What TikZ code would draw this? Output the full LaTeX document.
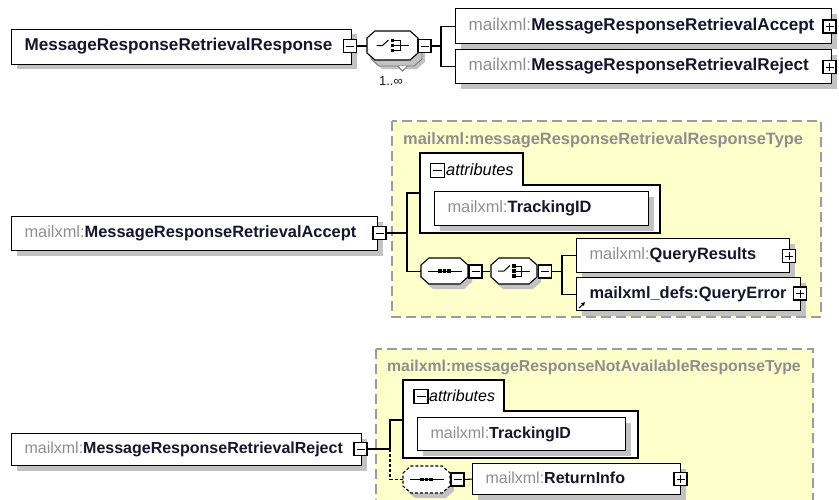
\documentclass[tikz,border=0pt]{standalone}
\usepackage{fontspec}
\setmainfont{Liberation Sans}
\usetikzlibrary{shadows,arrows.meta}

\definecolor{pfx}{HTML}{8E8E8E}
\definecolor{nm}{HTML}{15152E}
\definecolor{cty}{HTML}{FFFFCC}
\definecolor{ctyline}{HTML}{9C9C9C}
\definecolor{shd}{HTML}{C2C2C2}

% gray namespace prefix followed by the bold local name
\newcommand{\pfxname}[2]{\textcolor{pfx}{#1}\textbf{#2}}

% octagon outline of a compositor, half width #1, half height #2
\newcommand{\octpath}[2]{(-#1,-#2+7) -- (-#1+8,-#2) -- (#1-8,-#2) -- (#1,-#2+7)
  -- (#1,#2-7) -- (#1-8,#2) -- (-#1+8,#2) -- (-#1,#2-7) -- cycle}

% compositor body with shadow around node #1
\newcommand{\drawoct}[4]{%
  \begin{scope}[shift={(#1.center)}]
    \fill[shd, shift={(4,5)}] \octpath{#2}{#3};
    \draw[octline,#4] \octpath{#2}{#3};
  \end{scope}}

% "sequence" glyph drawn around a node centre
\newcommand{\seqmark}[1]{%
  \begin{scope}[shift={(#1)}]
    \draw[line width=1pt] (-17,0) -- (17,0);
    \foreach \d in {-4.5,0,4.5} \fill (\d-1.7,-1.7) rectangle (\d+1.7,1.7);
  \end{scope}}

% "choice" glyph drawn around a node centre
\newcommand{\choicemark}[1]{%
  \begin{scope}[shift={(#1)}]
    \draw[line width=1pt] (-16,0) -- (-10,0) -- (-4,-5.5);
    \foreach \d in {-5,0,5} \fill (-1.7,\d-1.6) rectangle (1.7,\d+1.6);
    \draw[line width=1pt] (1.7,-5) -- (7.5,-5) -- (7.5,5) -- (1.7,5);
    \draw[line width=1pt] (1.7,0) -- (16,0);
  \end{scope}}

\tikzset{
  elem/.style={draw=black, line width=1.1pt, fill=white, anchor=north west,
    inner xsep=13pt, inner ysep=0pt, align=left, text height=12pt, text depth=3.5pt,
    text=nm, drop shadow={shadow xshift=5pt, shadow yshift=-5pt, fill=shd, opacity=1}},
  togglebox/.style={draw=black, line width=1.3pt, fill=white, minimum size=13pt, inner sep=0pt},
  minus/.style={togglebox, path picture={%
      \draw[line width=1pt] ([xshift=2.5pt]path picture bounding box.west) --
                            ([xshift=-2.5pt]path picture bounding box.east);}},
  plus/.style={togglebox, path picture={%
      \draw[line width=1pt] ([xshift=2.5pt]path picture bounding box.west) --
                            ([xshift=-2.5pt]path picture bounding box.east);
      \draw[line width=1pt] ([yshift=-2.5pt]path picture bounding box.north) --
                            ([yshift=2.5pt]path picture bounding box.south);}},
  compnode/.style={rectangle, inner sep=0pt, minimum width=47pt, minimum height=26pt},
  octline/.style={draw=black, line width=1.1pt, fill=white},
  conn/.style={draw=black, line width=1.1pt},
  ctype/.style={draw=ctyline, fill=cty, line width=1.3pt, dash pattern=on 10pt off 5pt},
  ctitle/.style={anchor=west, inner sep=0pt, text=pfx},
  attrframe/.style={draw=black, line width=1.1pt, fill=white},
  attrlabel/.style={anchor=west, inner sep=0pt, text=black},
  fnttop/.style={font=\fontsize{17.1}{20}\selectfont},
  fntmid/.style={font=\fontsize{16.4}{19}\selectfont},
  fntbot/.style={font=\fontsize{16}{19}\selectfont},
}

\begin{document}
\begin{tikzpicture}[x=1pt,y=-1pt]
\clip (0,0) rectangle (839,499);
\fill[white] (0,0) rectangle (839,499);

% ---- complex type backgrounds
\draw[ctype] (392,121) rectangle (821,317);
\node[ctitle, font=\fontsize{16.4}{19}\selectfont\bfseries] (t1) at (403,140) {mailxml:messageResponseRetrievalResponseType};
\draw[ctype] (376,349) rectangle (813,515);
\node[ctitle, font=\fontsize{15.8}{19}\selectfont\bfseries] (t2) at (387,367) {mailxml:messageResponseNotAvailableResponseType};

% ---- root element with its repeated choice
\begin{scope}[every node/.append style={fnttop}]
\node[elem, text width=314pt, minimum height=35pt] (root) at (11,28.5) {\textbf{MessageResponseRetrievalResponse}};
\node[minus] (rootm) at (350,46) {};

\node[compnode, minimum width=51pt, minimum height=29pt] (ch1) at (392.5,45.5) {};
\begin{scope}[shift={(ch1.center)}]
  \fill[shd, shift={(7,9)}] \octpath{25.5}{14.5};
  \draw[draw=black!55, line width=0.8pt, fill=shd, shift={(4,6)}] \octpath{25.5}{14.5};
  \draw[black!55, line width=0.8pt, fill=white] (5,20.5) -- (10,25.5) -- (15,20.5);
  \draw[octline] \octpath{25.5}{14.5};
\end{scope}
\choicemark{ch1.center}
\node[minus] (ch1m) at (424.5,46) {};
\node[text=nm, font=\fontsize{13}{15}\selectfont, inner sep=0pt] (occ) at (391,81) {1..∞};

\coordinate (j1) at (441,46);
\node[elem, text width=350pt, minimum height=35pt] (acc1) at (455,8) {\pfxname{mailxml:}{MessageResponseRetrievalAccept}};
\node[plus] (acc1p) at (829.5,26.5) {};
\node[elem, text width=350pt, minimum height=34pt] (rej1) at (455,49) {\pfxname{mailxml:}{MessageResponseRetrievalReject}};
\node[plus] (rej1p) at (829.5,67) {};
\end{scope}

\draw[conn] (rootm.east) -- (ch1.west |- rootm.east);
\draw[conn] (ch1m.east) -- (j1);
\draw[conn] (acc1.west) -| (j1) |- (rej1.west);

% ---- accept element
\begin{scope}[every node/.append style={fntmid}]
\node[elem, text width=340pt, minimum height=34pt] (accel) at (11,216) {\pfxname{mailxml:}{MessageResponseRetrievalAccept}};
\node[minus] (accelm) at (379.5,233) {};

\draw[attrframe] (420,153) -- (523,153) -- (523,185) -- (660,185) -- (660,233) -- (420,233) -- cycle;
\coordinate (attr1) at (420,193);
\node[minus, minimum size=14pt] (attr1m) at (437.5,170.5) {};
\node[attrlabel] (attr1l) at (446,170) {\itshape attributes};
\node[elem, text width=188pt, minimum height=34pt] (trk1) at (434,191) {\pfxname{mailxml:}{TrackingID}};

\node[compnode] (seq1) at (444.5,271) {};
\drawoct{seq1}{23.5}{13}{}
\seqmark{seq1.center}
\node[minus] (seq1m) at (475.5,271.5) {};
\node[compnode] (ch2) at (514,271) {};
\drawoct{ch2}{23}{13}{}
\choicemark{ch2.center}
\node[minus] (ch2m) at (545,271.5) {};

\coordinate (j2) at (407,233);
\coordinate (j3) at (562,271.5);
\node[elem, text width=187pt, minimum height=34pt] (qres) at (576,238) {\pfxname{mailxml:}{QueryResults}};
\node[plus] (qresp) at (789,256) {};
\node[elem, text width=198pt, minimum height=33pt] (qerr) at (576,277) {\textbf{mailxml\_defs:QueryError}};
\node[plus] (qerrp) at (800,293.5) {};
\end{scope}
\draw[line width=1.1pt, -{Triangle[length=3.5pt,width=3.5pt]}]
  ([shift={(3,-3)}]qerr.south west) -- ++(6,-6);

\draw[conn] (accelm.east) -- (j2);
\draw[conn] (attr1) -| (j2) |- (seq1.west |- seq1m.west);
\draw[conn] (seq1m.east) -- (ch2.west |- seq1m.east);
\draw[conn] (ch2m.east) -- (j3);
\draw[conn] (qres.west) -| (j3) |- (qerr.west);

% ---- reject element
\begin{scope}[every node/.append style={fntbot}]
\node[elem, text width=324pt, minimum height=32pt] (rejel) at (11,433) {\pfxname{mailxml:}{MessageResponseRetrievalReject}};
\node[minus] (rejelm) at (360.5,449) {};

\draw[attrframe] (403,380) -- (504,380) -- (504,411) -- (638,411) -- (638,458) -- (403,458) -- cycle;
\coordinate (attr2) at (403,420);
\node[minus, minimum size=14pt] (attr2m) at (421,396.5) {};
\node[attrlabel] (attr2l) at (429,396) {\itshape attributes};
\node[elem, text width=182pt, minimum height=33pt] (trk2) at (417,417) {\pfxname{mailxml:}{TrackingID}};

\node[compnode] (seq2) at (426.5,479.5) {};
\drawoct{seq2}{23.5}{13.5}{dash pattern=on 3pt off 2pt}
\seqmark{seq2.center}
\node[minus] (seq2m) at (457.5,479.5) {};
\coordinate (j4) at (390,449);
\node[elem, text width=182pt, minimum height=31pt] (retinfo) at (472,463) {\pfxname{mailxml:}{ReturnInfo}};
\node[plus] (retinfop) at (680.5,479) {};
\end{scope}

\draw[conn] (rejelm.east) -- (j4);
\draw[conn] (attr2) -| (j4);
\draw[conn, dash pattern=on 3pt off 2pt] (j4) |- (seq2.west);
\draw[conn] (seq2m.east) -- (retinfo.west);
\end{tikzpicture}
\end{document}
